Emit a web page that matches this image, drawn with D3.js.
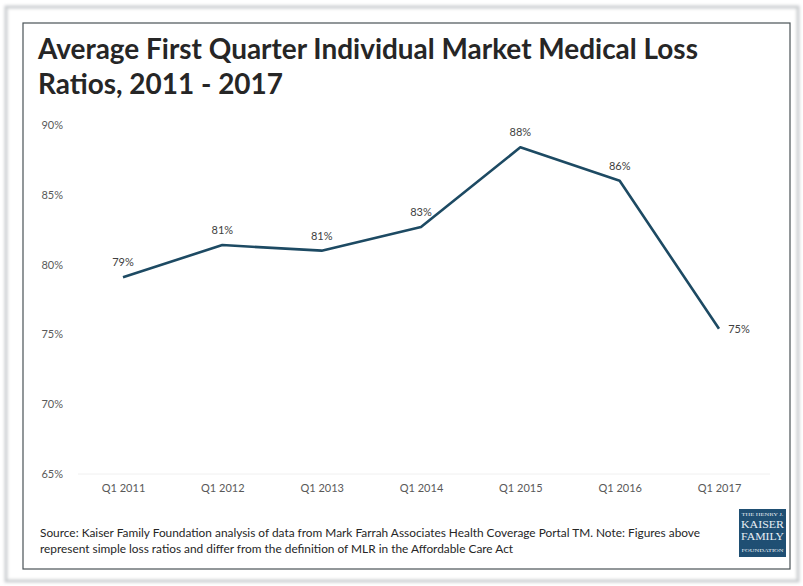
<!DOCTYPE html>
<html>
<head>
<meta charset="utf-8">
<script src="https://cdn.jsdelivr.net/npm/d3@7"></script>
<style>
  html, body { margin: 0; padding: 0; background: #ffffff; }
  svg { display: block; }
</style>
</head>
<body>
<svg id="chart" width="803" height="586"></svg>
<script>
// Quarterly categories and average loss ratios (%)
const quarters = ["Q1 2011", "Q1 2012", "Q1 2013", "Q1 2014", "Q1 2015", "Q1 2016", "Q1 2017"];
const lossRatios = [79.1, 81.4, 81.0, 82.7, 88.4, 86.0, 75.4];
const yTicks = [65, 70, 75, 80, 85, 90];
const titleLines = ["Average First Quarter Individual Market Medical Loss", "Ratios, 2011 - 2017"];
const noteLines = [
  "Source: Kaiser Family Foundation analysis of data from Mark Farrah Associates Health Coverage Portal TM. Note: Figures above",
  "represent simple loss ratios and differ from the definition of MLR in the Affordable Care Act"
];
const logoLines = ["THE HENRY J.", "KAISER", "FAMILY", "FOUNDATION"];

const svg = d3.select("#chart");
const font = "Lato, 'Open Sans', 'DejaVu Sans', sans-serif";
const lineColor = "#1d4a63";

// soft grey page edge around the card
const defs = svg.append("defs");
defs.append("filter").attr("id", "soft")
  .append("feGaussianBlur").attr("stdDeviation", 1.6);
svg.append("rect")
  .attr("x", 6).attr("y", 7).attr("width", 792).attr("height", 574)
  .attr("fill", "none").attr("stroke", "#c9cccf").attr("stroke-width", 3)
  .attr("filter", "url(#soft)");

// card frame
svg.append("rect")
  .attr("x", 23).attr("y", 23).attr("width", 767).attr("height", 546)
  .attr("fill", "#ffffff").attr("stroke", "#4a5356").attr("stroke-width", 1.2);

// helper: shrink/grow a text's font size so it spans the given width
function fitWidth(sel, target) {
  const node = sel.node();
  const fs = parseFloat(sel.attr("font-size"));
  const w = node.getComputedTextLength();
  sel.attr("font-size", (fs * target / w).toFixed(2));
}

// title
const titleBaselines = [59, 94];
const titleWidths = [660, null];
let titleSize = 27;
titleLines.forEach((t, i) => {
  const txt = svg.append("text")
    .attr("x", 38).attr("y", titleBaselines[i])
    .attr("font-family", font).attr("font-weight", 700)
    .attr("font-size", titleSize).attr("fill", "#262626")
    .text(t);
  if (i === 0) { fitWidth(txt, 660); titleSize = +txt.attr("font-size"); }
  else txt.attr("font-size", titleSize);
});

// scales
const x = d3.scalePoint().domain(quarters).range([123, 719]);
const y = d3.scaleLinear().domain([65, 90]).range([474, 125]);

// faint baseline
svg.append("line")
  .attr("x1", 78).attr("x2", 770)
  .attr("y1", y(65)).attr("y2", y(65))
  .attr("stroke", "#f0f0f0").attr("stroke-width", 1);

// y axis labels
const yAxis = d3.axisLeft(y).tickValues(yTicks).tickFormat(d => d + "%").tickSize(0);
const yg = svg.append("g").attr("transform", "translate(63,0)").call(yAxis);
yg.select(".domain").remove();
yg.selectAll("text")
  .attr("font-family", font).attr("font-size", 11).attr("fill", "#595959")
  .attr("x", 0).attr("text-anchor", "end");

// x axis labels
const xAxis = d3.axisBottom(x).tickSize(0);
const xg = svg.append("g").attr("transform", "translate(0,484)").call(xAxis);
xg.select(".domain").remove();
xg.selectAll("text")
  .attr("font-family", font).attr("font-size", 11).attr("fill", "#595959")
  .attr("dy", "0.71em").attr("y", 0);

// the series line
const data = quarters.map((q, i) => ({ q, v: lossRatios[i] }));
svg.append("path")
  .datum(data)
  .attr("fill", "none")
  .attr("stroke", lineColor)
  .attr("stroke-width", 2.6)
  .attr("stroke-linejoin", "round")
  .attr("d", d3.line().x(d => x(d.q)).y(d => y(d.v)));

// value labels
const fmt = v => Math.round(v) + "%";
svg.append("g").selectAll("text")
  .data(data)
  .join("text")
  .attr("x", (d, i) => i === data.length - 1 ? x(d.q) + 20 : x(d.q))
  .attr("y", (d, i) => i === data.length - 1 ? y(d.v) + 4 : y(d.v) - 11)
  .attr("text-anchor", "middle")
  .attr("font-family", font).attr("font-size", 11).attr("fill", "#404040")
  .text(d => fmt(d.v));

// footnote
const noteTargets = [660, null];
let noteSize = 11;
noteLines.forEach((t, i) => {
  const txt = svg.append("text")
    .attr("x", 40).attr("y", 537 + i * 16)
    .attr("font-family", font).attr("font-size", noteSize).attr("fill", "#262626")
    .text(t);
  if (i === 0) { fitWidth(txt, 660); noteSize = +txt.attr("font-size"); }
  else txt.attr("font-size", noteSize);
});

// foundation logo
const logo = svg.append("g").attr("transform", "translate(739,509)");
logo.append("rect").attr("width", 47).attr("height", 48).attr("fill", "#1f4f73");
const logoSizes = [4.5, 10.5, 10.5, 4.5];
const logoYs = [7, 19, 31, 43];
logoLines.forEach((t, i) => {
  logo.append("text")
    .attr("x", 23.5).attr("y", logoYs[i])
    .attr("text-anchor", "middle")
    .attr("font-family", "'Liberation Serif', 'DejaVu Serif', serif")
    .attr("font-size", logoSizes[i]).attr("fill", "#e8eef3")
    .attr("textLength", i === 0 || i === 3 ? 42 : 43)
    .attr("lengthAdjust", "spacingAndGlyphs")
    .text(t);
});
</script>
</body>
</html>
